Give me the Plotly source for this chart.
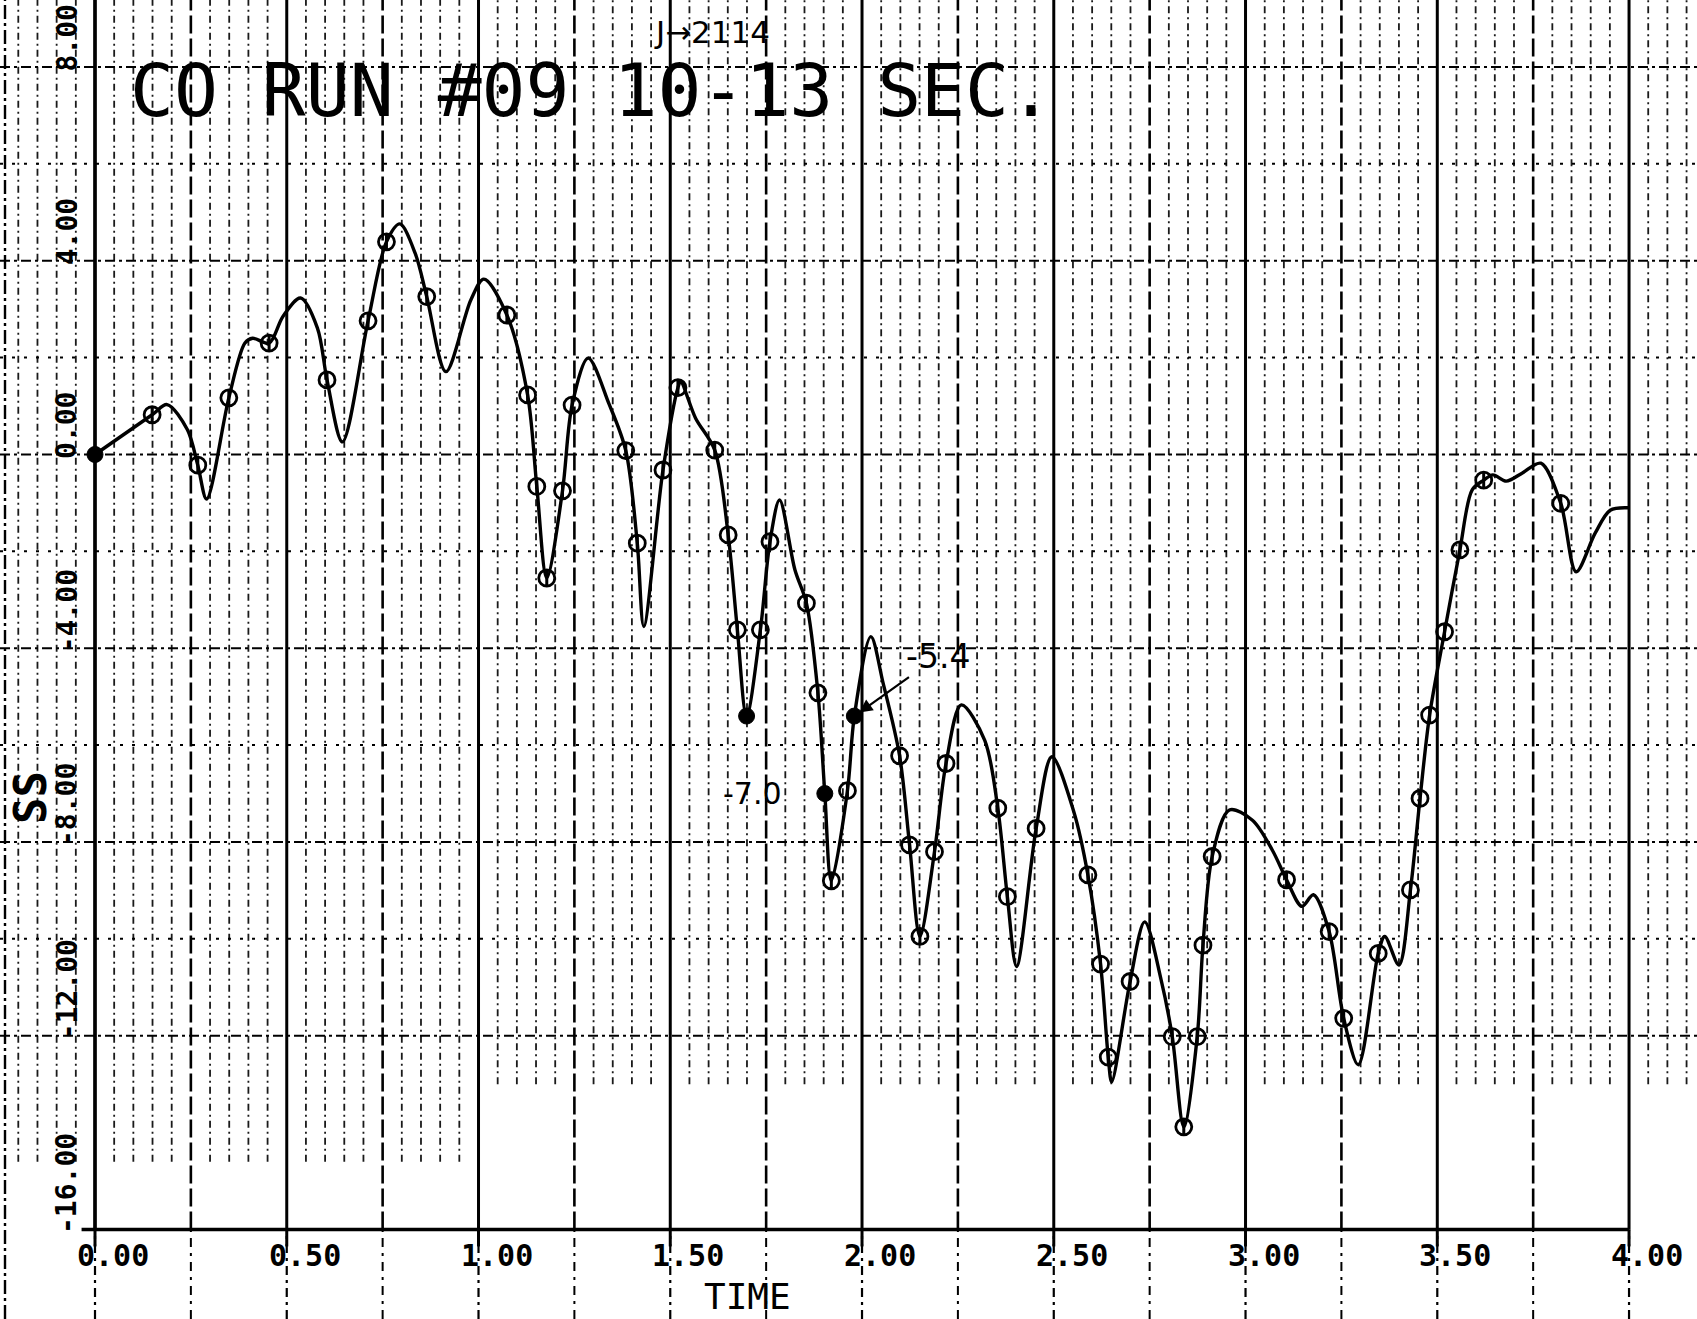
import plotly.graph_objects as go

# ---- trace of SS against TIME ----
curve_t = [0.000, 0.149, 0.188, 0.241, 0.268, 0.291, 0.349, 0.391, 0.411, 0.454,
           0.490, 0.536, 0.580, 0.605, 0.645, 0.712, 0.760, 0.795, 0.835, 0.865,
           0.915, 0.980, 1.014, 1.074, 1.128, 1.152, 1.178, 1.219, 1.244, 1.286,
           1.340, 1.384, 1.414, 1.431, 1.481, 1.520, 1.527, 1.566, 1.616, 1.651,
           1.675, 1.699, 1.735, 1.760, 1.785, 1.825, 1.855, 1.885, 1.903, 1.920,
           1.962, 1.980, 2.023, 2.055, 2.098, 2.124, 2.151, 2.189, 2.219, 2.259,
           2.320, 2.354, 2.379, 2.403, 2.454, 2.495, 2.552, 2.589, 2.622, 2.642,
           2.651, 2.699, 2.737, 2.780, 2.809, 2.839, 2.874, 2.889, 2.913, 2.958,
           3.018, 3.070, 3.107, 3.147, 3.177, 3.218, 3.256, 3.294, 3.346, 3.363,
           3.400, 3.430, 3.455, 3.480, 3.519, 3.559, 3.591, 3.621, 3.645, 3.680,
           3.722, 3.770, 3.822, 3.862, 3.912, 3.951, 4.000]
curve_ss = [0.00, 0.82, 1.03, 0.51, -0.22, -0.92, 1.17, 2.30, 2.40, 2.30,
            2.85, 3.23, 2.61, 1.54, 0.26, 2.76, 4.39, 4.76, 4.15, 3.26,
            1.71, 3.19, 3.62, 2.88, 1.23, -0.66, -2.55, -0.75, 1.02, 1.99,
            1.05, 0.08, -1.83, -3.55, -0.32, 1.38, 1.50, 0.75, 0.09, -1.66,
            -3.62, -5.40, -3.62, -1.80, -0.94, -2.38, -3.07, -4.92, -7.00, -8.80,
            -6.94, -5.40, -3.76, -4.72, -6.22, -8.06, -9.95, -8.20, -6.38, -5.17,
            -5.90, -7.30, -9.13, -10.57, -7.72, -6.24, -7.37, -8.68, -10.52, -12.44,
            -12.95, -10.88, -9.65, -10.85, -12.02, -13.88, -12.02, -10.13, -8.30, -7.34,
            -7.55, -8.17, -8.78, -9.33, -9.09, -9.85, -11.64, -12.60, -10.30, -9.95,
            -10.54, -8.99, -7.10, -5.38, -3.66, -1.97, -0.73, -0.53, -0.42, -0.55,
            -0.38, -0.18, -1.01, -2.42, -1.62, -1.15, -1.10]

# ---- circled sample points ----
marker_t = [0.149, 0.268, 0.349, 0.454, 0.605, 0.712, 0.760, 0.865, 1.074, 1.128,
            1.152, 1.178, 1.219, 1.244, 1.384, 1.414, 1.481, 1.520, 1.616, 1.651,
            1.675, 1.735, 1.760, 1.855, 1.885, 1.920, 1.962, 2.098, 2.124, 2.151,
            2.189, 2.219, 2.354, 2.379, 2.454, 2.589, 2.622, 2.642, 2.699, 2.809,
            2.839, 2.874, 2.889, 2.913, 3.107, 3.218, 3.256, 3.346, 3.430, 3.455,
            3.480, 3.519, 3.559, 3.621, 3.822]
marker_ss = [0.82, -0.22, 1.17, 2.30, 1.54, 2.76, 4.39, 3.26, 2.88, 1.23,
             -0.66, -2.55, -0.75, 1.02, 0.08, -1.83, -0.32, 1.38, 0.09, -1.66,
             -3.62, -3.62, -1.80, -3.07, -4.92, -8.80, -6.94, -6.22, -8.06, -9.95,
             -8.20, -6.38, -7.30, -9.13, -7.72, -8.68, -10.52, -12.44, -10.88, -12.02,
             -13.88, -12.02, -10.13, -8.30, -8.78, -9.85, -11.64, -10.30, -8.99, -7.10,
             -5.38, -3.66, -1.97, -0.53, -1.01]

# ---- solid sample points ----
filled_t = [0.000, 1.699, 1.903, 1.980]
filled_ss = [0.00, -5.40, -7.00, -5.40]

# ---- hand-written value notes (time, value) ----
note_t = [1.980, 1.903]
note_ss = [-5.4, -7.0]

# ---- axis ticks ----
x_ticks = [0.0, 0.5, 1.0, 1.5, 2.0, 2.5, 3.0, 3.5, 4.0]
x_tick_text = ["0.00", "0.50", "1.00", "1.50", "2.00", "2.50", "3.00", "3.50", "4.00"]
y_ticks = [8, 4, 0, -4, -8, -12, -16]
y_tick_text = ["8.00", "4.00", "0.00", "-4.00", "-8.00", "-12.00", "-16.00"]

TITLE = "CO RUN #09 10-13 SEC."
NOTE_TOP = "J\u21922114"

W, H = 1697, 1319
X0, X1 = -0.2477, 4.1772
Y0, Y1 = -17.848, 9.383

INK = "black"
MONO = "DejaVu Sans Mono"
HAND = "DejaVu Sans"

fig = go.Figure()

# ---- chart-paper grid ----
shapes = []


def seg(x0, y0, x1, y1, width, dash="solid", color=INK):
    shapes.append(dict(type="line", xref="x", yref="y", x0=x0, y0=y0, x1=x1, y1=y1,
                       layer="below", line=dict(color=color, width=width, dash=dash)))


for k in range(-4, 84):
    x = round(k * 0.05, 4)
    if k % 10 == 0:
        seg(x, -16, x, Y1, 3.0)
        seg(x, Y0, x, -16, 2.2, "9px,5px,3px,5px")
        seg(x, -16, x, -16.35, 3.0)
    elif k % 5 == 0:
        seg(x, -16, x, Y1, 2.6, "18px,5px")
        seg(x, Y0, x, -16, 2.0, "9px,6px,3px,6px")
    else:
        low = -14.6 if x < 1.0 else -13.0
        seg(x, low, x, Y1, 1.8, "7px,4px,2px,4px", color="#1a1a1a")

# left edge rule of the paper
shapes.append(dict(type="line", xref="paper", yref="paper", x0=5 / W, x1=5 / W, y0=0, y1=1,
                   layer="below", line=dict(color=INK, width=2.4, dash="14px,4px,3px,4px")))

for yv in range(-12, 10, 2):
    if yv % 4 == 0:
        seg(X0, yv, X1, yv, 2.2, "10px,4px,3px,4px")
    else:
        seg(X0, yv, X1, yv, 2.0, "3px,9px")

# axes
seg(-0.035, -16, 4.0, -16, 3.4)
seg(0, -16, 0, Y1, 3.4)

# ---- curve ----
fig.add_trace(go.Scatter(x=curve_t, y=curve_ss, mode="lines",
                         line=dict(color=INK, width=3.4, shape="spline", smoothing=0.9),
                         hoverinfo="skip"))
# open sample circles, each crossed by a short vertical stroke
fig.add_trace(go.Scatter(x=marker_t, y=marker_ss, mode="markers",
                         marker=dict(symbol="circle-open", size=16, color=INK,
                                     line=dict(color=INK, width=2.8)),
                         error_y=dict(type="constant", value=0.15, color=INK,
                                      thickness=3, width=0),
                         hoverinfo="skip"))
fig.add_trace(go.Scatter(x=filled_t, y=filled_ss, mode="markers",
                         marker=dict(symbol="circle", size=16, color=INK,
                                     line=dict(color=INK, width=1)),
                         hoverinfo="skip"))

# ---- text ----
ann = []
ann.append(dict(text=TITLE, xref="paper", yref="paper", x=128 / W, y=1 - 91 / H,
                xanchor="left", yanchor="middle", showarrow=False,
                font=dict(family=MONO, size=73, color=INK)))
ann.append(dict(text=NOTE_TOP, xref="paper", yref="paper", x=712 / W, y=1 - 32 / H,
                xanchor="center", yanchor="middle", showarrow=False,
                font=dict(family=HAND, size=31, color=INK)))

for t, txt in zip(x_ticks, x_tick_text):
    ann.append(dict(text=txt, xref="x", yref="paper", x=t, y=1 - 1255 / H,
                    xanchor="center", yanchor="middle", xshift=18, showarrow=False,
                    font=dict(family=MONO, size=30, color=INK, weight="bold")))
for v, txt in zip(y_ticks, y_tick_text):
    ann.append(dict(text=txt, xref="paper", yref="y", x=67 / W, y=v,
                    xanchor="center", yanchor="bottom", yshift=-6, textangle=-90,
                    showarrow=False, borderpad=0,
                    font=dict(family=MONO, size=28, color=INK, weight="bold")))

ann.append(dict(text="TIME", xref="paper", yref="paper", x=747 / W, y=1 - 1296 / H,
                xanchor="center", yanchor="middle", showarrow=False,
                font=dict(family=MONO, size=36, color=INK)))
ann.append(dict(text="SS", xref="paper", yref="paper", x=30 / W, y=1 - 798 / H,
                xanchor="center", yanchor="middle", textangle=-90, showarrow=False,
                font=dict(family=MONO, size=44, color=INK, weight="bold")))

# value notes beside the solid points
ann.append(dict(text=f"{note_ss[0]:.1f}", xref="x", yref="y", x=note_t[0], y=note_ss[0],
                ax=84, ay=-60, showarrow=True, arrowhead=2, arrowsize=1.2,
                arrowwidth=2.2, arrowcolor=INK, standoff=6,
                font=dict(family=HAND, size=33, color=INK)))
ann.append(dict(text=f"{note_ss[1]:.1f}", xref="x", yref="y", x=note_t[1], y=note_ss[1],
                xshift=-72, showarrow=False,
                font=dict(family=HAND, size=30, color=INK)))

fig.update_layout(
    width=W, height=H,
    margin=dict(l=0, r=0, t=0, b=0),
    paper_bgcolor="white", plot_bgcolor="white",
    showlegend=False,
    xaxis=dict(range=[X0, X1], visible=False, fixedrange=True),
    yaxis=dict(range=[Y0, Y1], visible=False, fixedrange=True),
    shapes=shapes,
    annotations=ann,
)

fig.write_html("out.html")
